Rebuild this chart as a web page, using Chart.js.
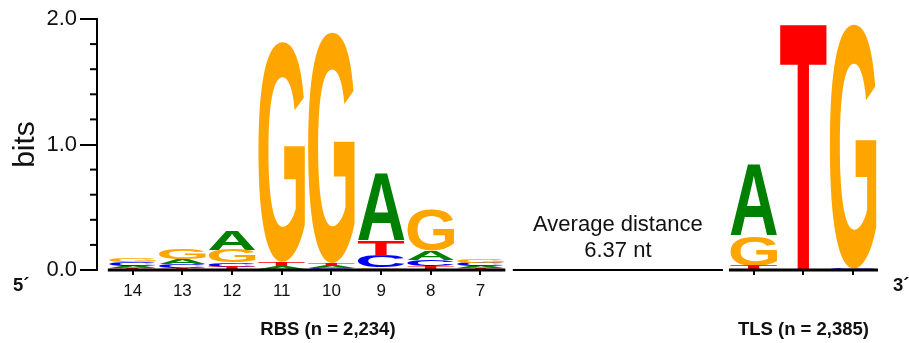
<!DOCTYPE html>
<html><head><meta charset="utf-8">
<script src="https://cdn.jsdelivr.net/npm/chart.js@4.4.1/dist/chart.umd.min.js"></script>
<style>html,body{margin:0;padding:0;background:#fff;}#wrap{width:909px;height:343px;position:relative;}</style>
</head><body><div id="wrap"><canvas id="c" width="909" height="343"></canvas></div>
<script>
// ---- data ----
const columnLabels    = ['14','13','12','11','10','9','8','7','','',''];
const columnPositions = [0, 1, 2, 3, 4, 5, 6, 7, 12.5, 13.5, 14.5];
const bitsA = [0.020, 0.040, 0.150, 0.020, 0.020, 0.530, 0.075, 0.017, 0.560, 0.000, 0.005];
const bitsC = [0.028, 0.035, 0.035, 0.010, 0.015, 0.093, 0.050, 0.025, 0.005, 0.000, 0.005];
const bitsG = [0.032, 0.080, 0.100, 1.755, 1.840, 0.020, 0.320, 0.030, 0.245, 0.000, 1.950];
const bitsT = [0.015, 0.015, 0.025, 0.035, 0.020, 0.125, 0.030, 0.012, 0.025, 1.970, 0.000];
const yTickValues = [0, 1, 2];
const groupLabels = ['RBS (n = 2,234)', 'TLS (n = 2,385)'];
const gapLabels = ['Average distance', '6.37 nt'];
const endLabels = ['5\u00b4', '3\u00b4'];

const letters = ['A', 'C', 'G', 'T'];
const letterColors = {A: '#008000', C: '#0000ff', G: '#ffa500', T: '#ff0000'};
const bitsByLetter = {A: bitsA, C: bitsC, G: bitsG, T: bitsT};

// floating ranges per letter, stacked smallest at bottom
const ranges = {A: [], C: [], G: [], T: []};
columnPositions.forEach((pos, i) => {
  const order = letters.slice().sort((p, q) => bitsByLetter[p][i] - bitsByLetter[q][i]);
  let base = 0;
  order.forEach(L => {
    const h = bitsByLetter[L][i];
    ranges[L].push({x: pos, y: [base, base + h]});
    base += h;
  });
});

const SANS = '"Liberation Sans", Arial, Helvetica, sans-serif';

function drawGlyph(ctx, ch, x0, y0, w, h, color) {
  ctx.save();
  ctx.font = 'bold 200px ' + SANS;
  ctx.textAlign = 'left';
  ctx.textBaseline = 'alphabetic';
  const m = ctx.measureText(ch);
  const gl = m.actualBoundingBoxLeft, gr = m.actualBoundingBoxRight;
  const ga = m.actualBoundingBoxAscent, gd = m.actualBoundingBoxDescent;
  ctx.translate(x0, y0);
  ctx.scale(w / (gl + gr), h / (ga + gd));
  ctx.fillStyle = color;
  ctx.fillText(ch, gl, ga);
  ctx.restore();
}

const logoPlugin = {
  id: 'logo',
  afterDatasetsDraw(chart) {
    const ctx = chart.ctx;
    chart.data.datasets.forEach((ds, di) => {
      const meta = chart.getDatasetMeta(di);
      meta.data.forEach(bar => {
        const p = bar.getProps(['x', 'y', 'base', 'width'], true);
        const top = Math.min(p.y, p.base), h = Math.abs(p.base - p.y);
        if (h < 0.4) return;
        drawGlyph(ctx, ds.label, p.x - p.width / 2, top, p.width, h, letterColors[ds.label]);
      });
    });
  },
  afterDraw(chart) {
    const ctx = chart.ctx, xs = chart.scales.x, ys = chart.scales.y;
    const y0 = ys.getPixelForValue(0);
    ctx.save();
    ctx.strokeStyle = '#000';
    ctx.lineCap = 'butt';
    // baselines
    const seg = (a, b, lw) => {
      ctx.lineWidth = lw;
      ctx.beginPath();
      ctx.moveTo(xs.getPixelForValue(a), y0);
      ctx.lineTo(xs.getPixelForValue(b), y0);
      ctx.stroke();
    };
    seg(-0.5, 7.5, 3);
    seg(7.65, 11.88, 2);
    seg(12, 15, 3);
    // minor y ticks
    ctx.lineWidth = 2;
    const ax = ys.right;
    for (let k = 1; k < 10; k++) {
      if (k === 5) continue;
      const py = ys.getPixelForValue(k * 0.2);
      ctx.beginPath();
      ctx.moveTo(ax - 7, py);
      ctx.lineTo(ax, py);
      ctx.stroke();
    }
    // texts
    ctx.fillStyle = '#111';
    ctx.textAlign = 'center';
    ctx.textBaseline = 'middle';
    ctx.font = '22px ' + SANS;
    const gx = (xs.getPixelForValue(7.65) + xs.getPixelForValue(11.88)) / 2;
    ctx.fillText(gapLabels[0], gx, 225);
    ctx.fillText(gapLabels[1], gx, 251);
    ctx.font = 'bold 18.5px ' + SANS;
    ctx.fillText(groupLabels[0], xs.getPixelForValue(3.93), 330);
    ctx.fillText(groupLabels[1], xs.getPixelForValue(13.5), 330);
    ctx.textAlign = 'left';
    ctx.fillText(endLabels[0], 13, 286);
    ctx.fillText(endLabels[1], 893, 286);
    ctx.restore();
  }
};

new Chart(document.getElementById('c'), {
  type: 'bar',
  data: {
    datasets: letters.map(L => ({
      label: L,
      data: ranges[L],
      backgroundColor: 'rgba(0,0,0,0)',
      borderWidth: 0,
      grouped: false,
      barPercentage: 0.94,
      categoryPercentage: 1
    }))
  },
  options: {
    responsive: false,
    animation: false,
    events: [],
    layout: {padding: {left: 0, right: 31, top: 19, bottom: 0}},
    plugins: {legend: {display: false}, tooltip: {enabled: false}},
    scales: {
      x: {
        type: 'linear',
        min: -0.718,
        max: 15,
        offset: false,
        afterBuildTicks: axis => { axis.ticks = columnPositions.map(v => ({value: v})); },
        afterFit: axis => { axis.height = 73; },
        border: {display: false},
        grid: {offset: false, drawOnChartArea: false, drawTicks: true, tickLength: 5, color: '#000', lineWidth: 2},
        ticks: {
          autoSkip: false, maxRotation: 0, padding: 6,
          color: '#111',
          font: {family: SANS, size: 17},
          callback: v => { const i = columnPositions.indexOf(v); return i >= 0 ? columnLabels[i] : ''; }
        }
      },
      y: {
        type: 'linear',
        min: 0,
        max: 2,
        afterBuildTicks: axis => { axis.ticks = yTickValues.map(v => ({value: v})); },
        afterFit: axis => { axis.width = 97; },
        border: {display: true, color: '#000', width: 2},
        grid: {drawOnChartArea: false, drawTicks: true, tickLength: 17, color: '#000', lineWidth: 2},
        ticks: {
          padding: 3, color: '#111',
          font: {family: SANS, size: 22},
          callback: v => Number(v).toFixed(1)
        },
        title: {display: true, text: 'bits', color: '#111', font: {family: SANS, size: 30}, padding: {top: 8, bottom: 0}}
      }
    }
  },
  plugins: [logoPlugin]
});
</script>
</body></html>
